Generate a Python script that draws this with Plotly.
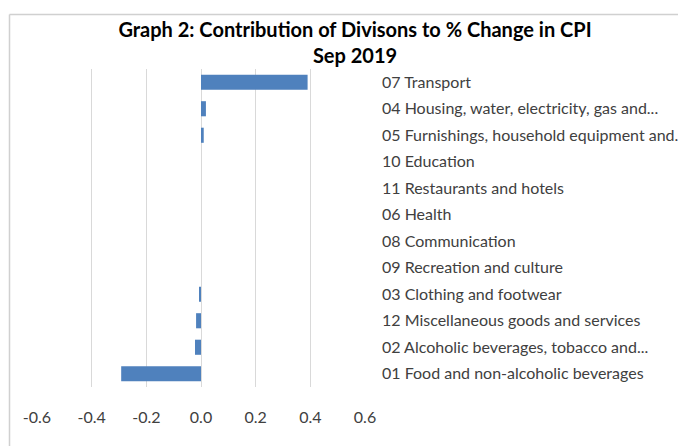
import plotly.graph_objects as go

categories = [
    "07 Transport",
    "04 Housing, water, electricity, gas and...",
    "05 Furnishings, household equipment and.",
    "10 Education",
    "11 Restaurants and hotels",
    "06 Health",
    "08 Communication",
    "09 Recreation and culture",
    "03 Clothing and footwear",
    "12 Miscellaneous goods and services",
    "02 Alcoholic beverages, tobacco and...",
    "01 Food and non-alcoholic beverages",
]
values = [0.39, 0.018, 0.01, 0.0, 0.0, 0.0, 0.0, 0.0, -0.007, -0.018, -0.022, -0.292]
x_ticks = [-0.6, -0.4, -0.2, 0.0, 0.2, 0.4, 0.6]
x_tick_labels = ["-0.6", "-0.4", "-0.2", "0.0", "0.2", "0.4", "0.6"]

FONT = "Lato, Carlito, Calibri, sans-serif"

fig = go.Figure(go.Bar(
    x=values, y=categories, orientation="h",
    marker=dict(color="#4f81bd", line=dict(width=0)),
    width=0.57,
))

W, H = 678, 446
L, R, T, B = 37, 313, 69, 59
pw, ph = W - L - R, H - T - B

def px(x):
    return (x - L) / pw

def py(y):
    return (H - B - y) / ph

fig.update_layout(
    width=W, height=H,
    margin=dict(l=L, r=R, t=T, b=B, autoexpand=False),
    paper_bgcolor="white", plot_bgcolor="white",
    showlegend=False,
    font=dict(family=FONT, size=16, color="#404040"),
    title=dict(
        text="<b>Graph 2: Contribution of Divisons to % Change in CPI<br>Sep 2019</b>",
        x=355 / W, xanchor="center",
        y=1 - 37 / H, yanchor="top",
        font=dict(family=FONT, size=20, color="#000000"),
    ),
    xaxis=dict(
        range=[-0.6, 0.6], tickvals=x_ticks, ticktext=x_tick_labels,
        showgrid=True, gridcolor="#d9d9d9", gridwidth=1,
        zeroline=False, showline=False, ticks="",
        ticklabelstandoff=19, fixedrange=True,
        tickfont=dict(size=16, color="#404040"),
    ),
    yaxis=dict(
        side="right", autorange="reversed",
        showgrid=False, zeroline=False, showline=False, ticks="",
        ticklabelstandoff=16, fixedrange=True,
        tickfont=dict(size=16, color="#404040"),
    ),
    shapes=[
        dict(type="line", xref="paper", yref="paper", layer="above",
             x0=px(9.5), x1=px(9.5), y0=py(446), y1=py(14.5),
             line=dict(color="#d0d0d0", width=1.5)),
        dict(type="line", xref="paper", yref="paper", layer="above",
             x0=px(9.5), x1=px(678), y0=py(14.5), y1=py(14.5),
             line=dict(color="#d0d0d0", width=1.5)),
    ],
)

fig.write_html(
    "out.html",
    config={"displayModeBar": False},
    post_script="document.body.style.margin='0';document.body.style.padding='0';window.dispatchEvent(new Event('resize'));",
)
